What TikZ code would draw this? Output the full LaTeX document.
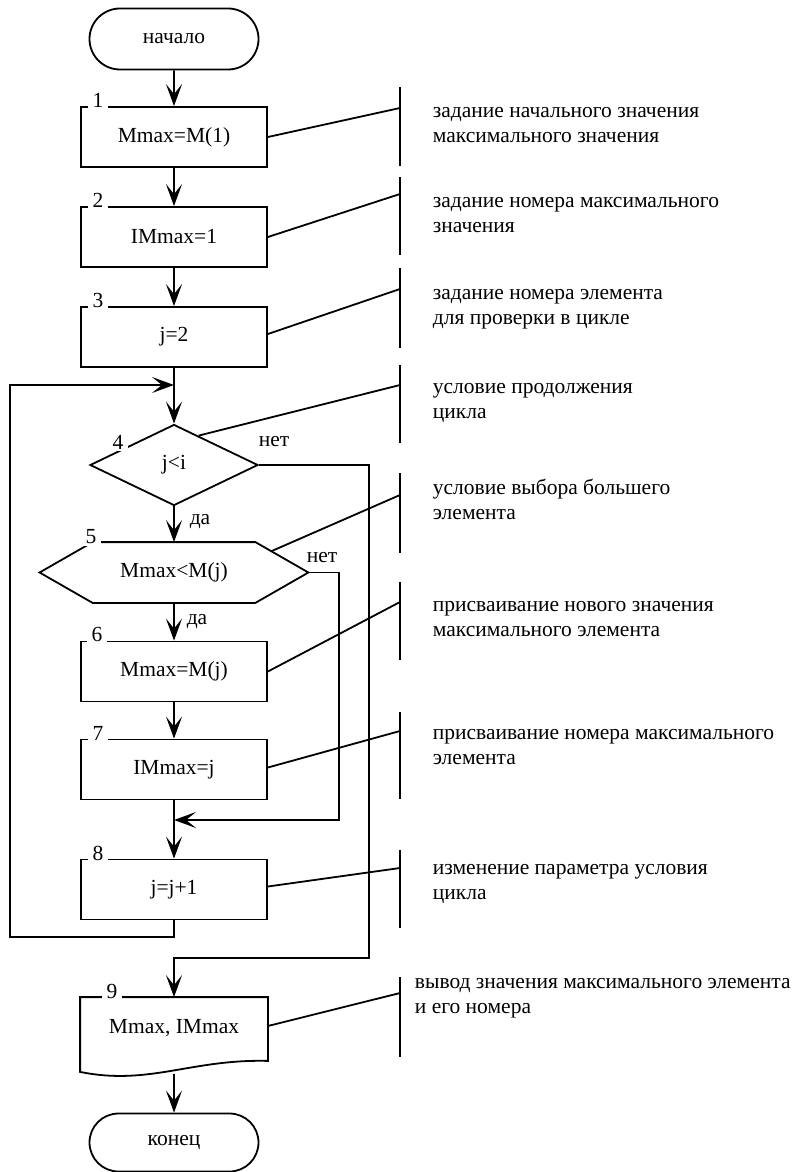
\documentclass[tikz,border=0pt]{standalone}
\usepackage{fontspec}
\setmainfont{Liberation Serif}
\usetikzlibrary{arrows.meta,shapes.misc,shapes.geometric,calc}
\begin{document}
\begin{tikzpicture}[x=1pt,y=-1pt,line width=1.8pt,
  every node/.style={font=\fontsize{21.5}{25}\selectfont},
  blk/.style={draw,rectangle,minimum width=186pt,minimum height=60pt,inner sep=0pt},
  term/.style={draw,rounded rectangle,minimum width=169pt,minimum height=61pt,inner sep=0pt},
  num/.style={fill=white,inner xsep=5pt,inner ysep=2pt},
  lbl/.style={inner sep=0pt},
  note/.style={anchor=west,align=left,inner sep=0pt},
  arr/.style={-{Stealth[length=22pt,width=16pt,inset=10pt]}}]
\path[use as bounding box] (0,0) rectangle (792,1172);

% blocks
\node[term] (start) at (174,39) {начало};
\node[blk] (b1) at (174,137) {Mmax=M(1)};
\node[blk] (b2) at (174,237) {IMmax=1};
\node[blk] (b3) at (174,337) {j=2};
\node[draw,diamond,minimum width=168pt,minimum height=81pt,inner sep=0pt] (d4) at (174,465) {j<i};
\node[minimum width=267pt,minimum height=59pt,inner sep=0pt] (h5) at (174,572.5) {Mmax<M(j)};
\draw (h5.west) -- ([xshift=53pt]h5.north west) -- ([xshift=-53pt]h5.north east) -- (h5.east)
  -- ([xshift=-53pt]h5.south east) -- ([xshift=53pt]h5.south west) -- cycle;
\node[blk] (b6) at (174,671.5) {Mmax=M(j)};
\node[blk] (b7) at (174,769.5) {IMmax=j};
\node[blk] (b8) at (174,889.5) {j=j+1};
\node[minimum width=186pt,minimum height=62pt,inner sep=0pt] (b9) at (174,1029) {\raisebox{6pt}{Mmax, IMmax}};
\draw ($(b9.south west)+(0,11)$) -- (b9.north west) -- (b9.north east) -- (b9.south east)
  .. controls ($(b9.south east)+(-77,-2)$) and ($(b9.south west)+(69,25)$) .. ($(b9.south west)+(0,11)$) -- cycle;
\coordinate (w9) at ($(b9.south)+(0,13)$);
\node[term,minimum height=58pt] (end) at (174,1142.5) {конец};

% flow connectors
\draw[arr] (start) -- (b1);
\draw[arr] (b1) -- (b2);
\draw[arr] (b2) -- (b3);
\draw[arr] (b3) -- (d4);
\coordinate (j1) at (174,385);
\draw[arr] (b8.south) -- (174,937) -- (10,937) -- (10,385) -- (j1);
\draw[arr] (d4) -- (h5);
\node[lbl] (da1) at (200,522) {да};
\draw[arr] (d4.east) -| (369,958) -| (b9.north);
\node[lbl] (no1) at (274,442) {нет};
\draw[arr] (h5) -- (b6);
\node[lbl] (da2) at (197,622) {да};
\coordinate (j2) at (174,820);
\draw[arr] (h5.east) -| (339,820) -- (j2);
\node[lbl] (no2) at (322,558) {нет};
\draw[arr] (b6) -- (b7);
\draw[arr] (b7) -- (b8);
\draw[arr] (w9) -- (end);

% numbers
\node[num] (n1) at (98,100) {1};
\node[num] (n2) at (98,200) {2};
\node[num] (n3) at (98,300) {3};
\node[num] (n4) at (118,442) {4};
\node[num] (n5) at (91,537) {5};
\node[num] (n6) at (97,634) {6};
\node[num] (n7) at (98,733) {7};
\node[num] (n8) at (98,853) {8};
\node[num] (n9) at (112,991) {9};

% annotations
\draw (400,87) -- (400,166);
\coordinate (a1) at (400,108);
\draw (b1.east) -- (a1);
\node[note] (t1) at (432,125.5) {задание начального значения\\максимального значения};

\draw (400,177) -- (400,255);
\coordinate (a2) at (400,194);
\draw (b2.east) -- (a2);
\node[note] (t2) at (432,215) {задание номера максимального\\значения};

\draw (400,268) -- (400,348);
\coordinate (a3) at (400,289);
\draw ([yshift=3pt]b3.east) -- (a3);
\node[note] (t3) at (432,309) {задание номера элемента\\для проверки в цикле};

\draw (400,365) -- (400,443);
\coordinate (a4) at (400,385);
\coordinate (p4) at ($(d4.north)!0.29!(d4.east)$);
\draw (p4) -- (a4);
\node[note] (t4) at (432,403.5) {условие продолжения\\цикла};

\draw (400,473) -- (400,553);
\coordinate (a5) at (400,495);
\coordinate (p5) at ($([xshift=-53pt]h5.north east)!0.3!(h5.east)$);
\draw (p5) -- (a5);
\node[note] (t5) at (432,499.5) {условие выбора большего\\элемента};

\draw (400,582) -- (400,660);
\coordinate (a6) at (400,602);
\draw (b6.east) -- (a6);
\node[note] (t6) at (432,619) {присваивание нового значения\\максимального элемента};

\draw (400,712) -- (400,799);
\coordinate (a7) at (400,731);
\draw ([yshift=2pt]b7.east) -- (a7);
\node[note] (t7) at (432,747.5) {присваивание номера максимального\\элемента};

\draw (400,850) -- (400,928);
\coordinate (a8) at (400,868);
\draw ([yshift=3pt]b8.east) -- (a8);
\node[note] (t8) at (432,884) {изменение параметра условия\\цикла};

\draw (400,977) -- (400,1057);
\coordinate (a9) at (400,993);
\draw ([yshift=3pt]b9.east) -- (a9);
\node[note] (t9) at (414,998) {вывод значения максимального элемента\\и его номера};
\end{tikzpicture}
\end{document}
